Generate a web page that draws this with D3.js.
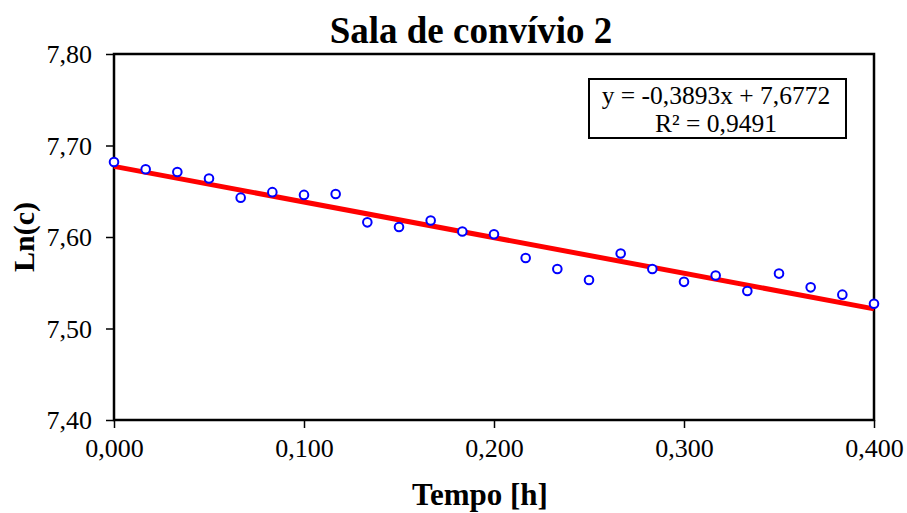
<!DOCTYPE html>
<html><head><meta charset="utf-8">
<script src="https://cdn.jsdelivr.net/npm/d3@7"></script>
<style>body{margin:0;background:#fff}svg{display:block}</style>
</head><body>
<svg id="c" width="907" height="513"></svg>
<script>
const timeH = [0,1/60,2/60,3/60,4/60,5/60,6/60,7/60,8/60,9/60,10/60,11/60,12/60,13/60,14/60,15/60,16/60,17/60,18/60,19/60,20/60,21/60,22/60,23/60,24/60];
const lnC = [7.682,7.674,7.671,7.664,7.643,7.649,7.646,7.647,7.616,7.611,7.618,7.606,7.603,7.577,7.565,7.553,7.582,7.565,7.551,7.558,7.541,7.560,7.545,7.537,7.527];
const slope = -0.3893, intercept = 7.6772;
const xTicks = [0,0.1,0.2,0.3,0.4];
const yTicks = [7.4,7.5,7.6,7.7,7.8];
const title = "Sala de convívio 2";
const xTitle = "Tempo [h]";
const yTitle = "Ln(c)";
const eqLines = ["y = -0,3893x + 7,6772","R² = 0,9491"];

const svg = d3.select("#c");
const L=114, R=874, T=54, B=420;
const x = d3.scaleLinear().domain([0,0.4]).range([L,R]);
const y = d3.scaleLinear().domain([7.4,7.8]).range([B,T]);
const font = "'Liberation Serif','Times New Roman',serif";
const fmtX = d => d3.format(".3f")(d).replace(".",",");
const fmtY = d => d3.format(".2f")(d).replace(".",",");

const xa = svg.append("g").attr("transform",`translate(0,${B})`)
  .call(d3.axisBottom(x).tickValues(xTicks).tickFormat(fmtX).tickSize(8).tickPadding(7));
const ya = svg.append("g").attr("transform",`translate(${L},0)`)
  .call(d3.axisLeft(y).tickValues(yTicks).tickFormat(fmtY).tickSize(8).tickPadding(14));
[xa,ya].forEach(a=>{
  a.select(".domain").remove();
  a.selectAll("line").attr("stroke","#000").attr("stroke-width",1.5);
  a.selectAll("text").attr("font-family",font).attr("font-size",26).attr("fill","#000");
});
xa.selectAll("text").attr("dy","0.85em");
ya.selectAll("text").attr("dy","0.33em");
// frame
svg.append("rect").attr("x",L).attr("y",T).attr("width",R-L).attr("height",B-T)
  .attr("fill","none").attr("stroke","#000").attr("stroke-width",2.5);

// trend line
svg.append("line").attr("x1",x(0)).attr("y1",y(intercept))
  .attr("x2",x(0.4)).attr("y2",y(intercept+slope*0.4))
  .attr("stroke","#ff0000").attr("stroke-width",5);

// points
svg.append("g").selectAll("circle").data(timeH).join("circle")
  .attr("cx",d=>x(d)).attr("cy",(d,i)=>y(lnC[i])).attr("r",4.3)
  .attr("fill","#fff").attr("stroke","#0000ff").attr("stroke-width",2);

// equation box
svg.append("rect").attr("x",589).attr("y",79).attr("width",257).attr("height",59)
  .attr("fill","#fff").attr("stroke","#000").attr("stroke-width",2);
svg.append("text").attr("x",716).attr("y",103.5).attr("text-anchor","middle")
  .attr("font-family",font).attr("font-size",25.5).text(eqLines[0]);
svg.append("text").attr("x",716).attr("y",132).attr("text-anchor","middle")
  .attr("font-family",font).attr("font-size",25.5).text(eqLines[1]);

// titles
svg.append("text").attr("x",471).attr("y",43).attr("text-anchor","middle")
  .attr("font-family",font).attr("font-size",37).attr("font-weight","bold").text(title);
svg.append("text").attr("x",480).attr("y",505).attr("text-anchor","middle")
  .attr("font-family",font).attr("font-size",31).attr("font-weight","bold").text(xTitle);
svg.append("text").attr("transform","translate(34,237) rotate(-90)").attr("text-anchor","middle")
  .attr("font-family",font).attr("font-size",30).attr("font-weight","bold").text(yTitle);
</script>
</body></html>
